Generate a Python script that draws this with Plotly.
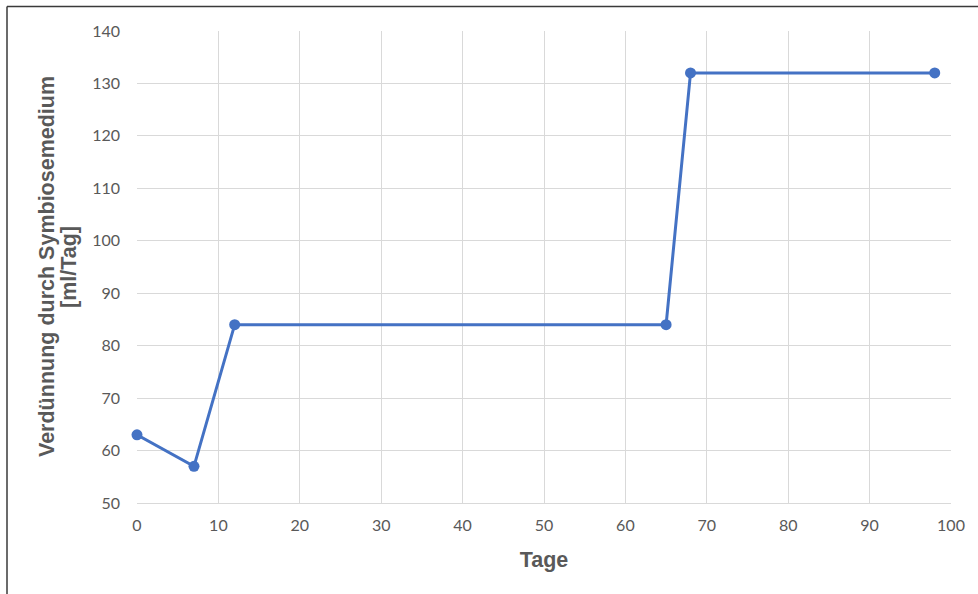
import plotly.graph_objects as go

# Dilution rate of the symbiosis medium over time
tage = [0, 7, 12, 65, 68, 98]
verduennung = [63, 57, 84, 84, 132, 132]

x_ticks = list(range(0, 101, 10))
y_ticks = list(range(50, 141, 10))

y_title_lines = ["<b>Verdünnung durch Symbiosemedium</b>", "<b>[ml/Tag]</b>"]

W, H = 978, 594
L, R, T, B = 137, 27, 31, 91
pw, ph = W - L - R, H - T - B

fig = go.Figure()
fig.add_trace(go.Scatter(
    x=tage, y=verduennung, mode="lines+markers",
    line=dict(color="#4472C4", width=3),
    marker=dict(color="#4472C4", size=11),
    cliponaxis=False,
    showlegend=False,
))

tick_font = dict(family="Lato, Carlito, Calibri, sans-serif", size=16, color="#595959")
title_font = dict(family="Liberation Sans, Arial, sans-serif", size=21.5, color="#595959")

fig.update_xaxes(
    range=[0, 100], tickvals=x_ticks, ticktext=[str(v) for v in x_ticks],
    showgrid=True, gridcolor="#d9d9d9", gridwidth=1,
    showline=True, linecolor="#d9d9d9", linewidth=1,
    zeroline=False, ticks="", tickfont=tick_font, ticklabelstandoff=8,
    title=dict(text="<b>Tage</b>", font=title_font, standoff=18),
)
fig.update_yaxes(
    range=[50, 140], tickvals=y_ticks, ticktext=[str(v) for v in y_ticks],
    showgrid=True, gridcolor="#d9d9d9", gridwidth=1,
    showline=False, zeroline=False, ticks="", tickfont=tick_font, ticklabelstandoff=16,
)

# Two-line y-axis title, set as rotated annotations for tighter line spacing
for text, px in zip(y_title_lines, [47, 69]):
    fig.add_annotation(
        text=text, textangle=-90, font=title_font, showarrow=False,
        xref="paper", yref="paper", x=(px - L) / pw, y=0.5,
        xanchor="center", yanchor="middle",
    )

# Outer frame (top and left edges)
bx = (7 - L) / pw
by = 1 + (T - 6.5) / ph
fig.add_shape(type="line", xref="paper", yref="paper",
              x0=bx, y0=-0.3, x1=bx, y1=by, line=dict(color="#3a3a3a", width=1.5))
fig.add_shape(type="line", xref="paper", yref="paper",
              x0=bx, y0=by, x1=1.2, y1=by, line=dict(color="#3a3a3a", width=1.5))

fig.update_layout(
    width=W, height=H,
    margin=dict(l=L, r=R, t=T, b=B),
    paper_bgcolor="white", plot_bgcolor="white",
)

fig.write_html("out.html")
